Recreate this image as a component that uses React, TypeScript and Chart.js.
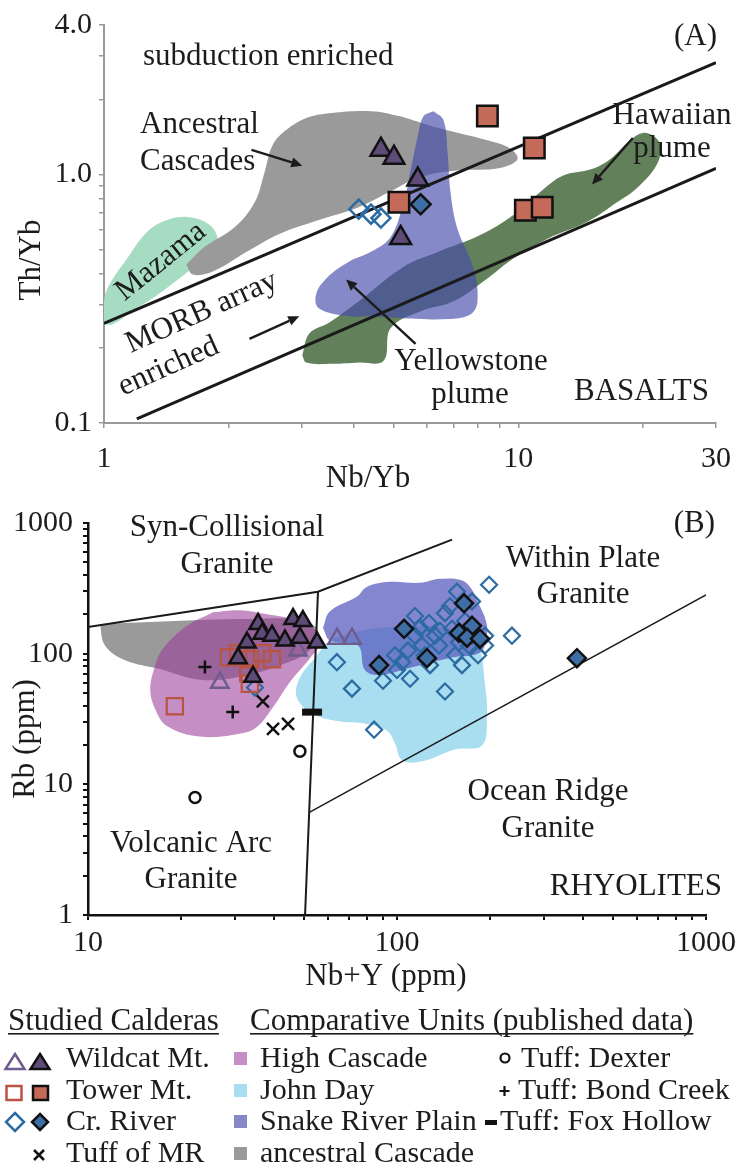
import React, { useEffect, useRef } from 'react';
import { Chart, registerables } from 'chart.js';

Chart.register(...registerables);

const SERIF = '"Liberation Serif", "Times New Roman", Times, serif';
const INK = '#1c1c1c';

type XY = [number, number];

// ---------- Panel A: Th/Yb vs Nb/Yb (basalts) ----------
const basaltXTicks = [1, 2, 3, 4, 5, 6, 7, 8, 9, 10, 20, 30];
const basaltXLabels = [1, 10, 30];
const basaltYTicks = [0.1, 0.2, 0.3, 0.4, 0.5, 0.6, 0.7, 0.8, 0.9, 1, 2, 3, 4];
const basaltYLabels = [0.1, 1, 4];

const wildcatBasalt: XY[] = [[4.66, 1.26], [5.01, 1.17], [5.72, 0.955], [5.2, 0.556]];
const towerBasalt: XY[] = [[8.42, 1.72], [10.93, 1.28], [5.15, 0.773], [10.4, 0.719], [11.42, 0.739]];
const crRiverBasaltOpen: XY[] = [[4.12, 0.726], [4.41, 0.693], [4.66, 0.668]];
const crRiverBasaltFilled: XY[] = [[5.81, 0.759]];

const morbUpper: XY[] = [[1, 0.252], [30, 2.82]];
const morbLower: XY[] = [[1.2, 0.104], [30, 1.06]];

const mazamaField: XY[] = [[1.0, 0.25], [1.0, 0.31], [1.03, 0.36], [1.136, 0.458], [1.27, 0.587], [1.42, 0.656], [1.61, 0.674], [1.8, 0.626], [1.88, 0.551], [1.83, 0.489], [1.67, 0.434], [1.52, 0.382], [1.31, 0.318], [1.17, 0.282], [1.05, 0.25]];
const ancestralFieldA: XY[] = [[1.58, 0.434], [1.64, 0.396], [1.83, 0.407], [2.21, 0.489], [2.65, 0.577], [3.3, 0.656], [4.12, 0.739], [4.87, 0.848], [5.75, 0.973], [7.17, 1.04], [8.95, 1.06], [9.95, 1.15], [9.57, 1.27], [8.47, 1.37], [7.17, 1.47], [6.08, 1.58], [5.15, 1.72], [4.41, 1.8], [3.55, 1.77], [3.08, 1.69], [2.75, 1.51], [2.55, 1.31], [2.44, 1.02], [2.31, 0.773], [2.07, 0.615], [1.75, 0.512]];
const yellowstoneField: XY[] = [[6.25, 1.8], [6.6, 1.656], [6.75, 1.223], [6.86, 0.848], [7.13, 0.604], [7.8, 0.418], [7.97, 0.309], [7.67, 0.274], [6.75, 0.262], [5.29, 0.264], [4.41, 0.269], [3.9, 0.269], [3.3, 0.29], [3.25, 0.33], [3.44, 0.382], [3.9, 0.446], [4.41, 0.489], [4.92, 0.561], [5.29, 0.773], [5.5, 1.047], [5.72, 1.43], [5.91, 1.72]];
const hawaiianField: XY[] = [[3.01, 0.187], [3.13, 0.229], [3.49, 0.253], [4.12, 0.309], [5.29, 0.426], [6.42, 0.489], [8.11, 0.572], [9.73, 0.687], [11.48, 0.871], [12.83, 0.991], [14.9, 1.047], [16.6, 1.148], [18.9, 1.404], [20.4, 1.47], [21.9, 1.341], [21.7, 1.116], [19.4, 0.887], [17.3, 0.773], [14.65, 0.644], [11.74, 0.551], [9.73, 0.459], [8.42, 0.382], [6.98, 0.309], [5.81, 0.282], [4.92, 0.241], [4.73, 0.178], [4.12, 0.175], [3.55, 0.173], [3.08, 0.175]];

const ancestralArrow = { from: [2.27, 1.258] as XY, to: [3.01, 1.086] as XY };
const hawaiianArrow = { from: [18.9, 1.404] as XY, to: [15.06, 0.912] as XY };
const morbArrow = { from: [2.244, 0.218] as XY, to: [2.96, 0.269] as XY };
const yellowstoneArrow = { from: [5.65, 0.208] as XY, to: [3.84, 0.378] as XY };

// ---------- Panel B: Rb vs Nb+Y (rhyolites) ----------
const rhyoXTicks = [10, 20, 30, 40, 50, 60, 70, 80, 90, 100, 200, 300, 400, 500, 600, 700, 800, 900, 1000];
const rhyoXLabels = [10, 100, 1000];
const rhyoYTicks = [1, 2, 3, 4, 5, 6, 7, 8, 9, 10, 20, 30, 40, 50, 60, 70, 80, 90, 100, 200, 300, 400, 500, 600, 700, 800, 900, 1000];
const rhyoYLabels = [1, 10, 100, 1000];

const wildcatFilled: XY[] = [[30.6, 92.3], [32.7, 121.6], [34.2, 66.5], [35.5, 168.9], [36.6, 142.1], [39.4, 137.3], [43.4, 125.9], [46.1, 184], [49.6, 177.8], [48.5, 132.6], [55.1, 121.6]];
const wildcatOpen: XY[] = [[26.7, 59.9], [47.8, 105.9], [64.0, 130.3], [71.5, 130.3]];
const towerOpen: XY[] = [[19.1, 39.6], [28.6, 93.9], [30.6, 100.6], [33.4, 90.7], [36.6, 100.6], [39.4, 90.7], [33.0, 71.2], [33.4, 58.9]];
const crRiverOpen: XY[] = [[34.7, 55.0], [63.9, 86.1], [71.5, 54.0], [84.3, 26.2], [90.1, 62.0], [100, 75.0], [110.2, 64.2], [103.8, 86.1], [114.3, 193.9], [114.3, 137.3], [120.5, 115.5], [123.2, 97.2], [126.9, 171.8], [132.8, 137.3], [136.8, 115.5], [143.0, 204.2], [143.0, 51.3], [150.7, 154.9], [154.1, 97.2], [156.3, 298.5], [158.7, 121.6], [171.0, 115.5], [174.9, 251.2], [174.9, 137.3], [192.7, 137.3], [192.7, 115.5], [198.6, 336.9], [235.5, 137.3], [108.5, 105.9], [127.9, 81.7], [137.7, 149.6], [166.0, 177.8], [148.4, 230.5], [182.9, 97.2], [98.5, 97.2], [118.7, 157.6], [162.3, 81.7]];
const crRiverFilled: XY[] = [[105.4, 154.9], [87.5, 81.7], [125.0, 92.3], [164.8, 242.7], [158.7, 144.5], [174.9, 163.2], [168.5, 132.6], [185.6, 130.3], [382.3, 92.3]];
const tuffMR: XY[] = [[36.8, 43.2], [39.7, 26.6], [44.4, 29.0]];
const tuffDexter: XY[] = [[22.2, 7.94], [48.5, 17.9]];
const tuffBondCreek: XY[] = [[23.9, 79.0], [29.4, 35.7]];
const tuffFoxHollow: XY[] = [[53.1, 35.7]];

const synColBoundary: XY[] = [[10, 160], [55.5, 298], [150.7, 746]];
const vagWpgBoundary: XY[] = [[55.5, 298], [50.4, 1]];
const orgBoundary: XY[] = [[52.2, 6.13], [1000, 282]];

const ancestralFieldB: XY[] = [[10.93, 168.9], [15.87, 174.8], [23.04, 180.9], [33.4, 184], [48.5, 180.9], [55.5, 149.6], [52.2, 105.9], [41.8, 81.7], [31.0, 66.5], [23.0, 63.1], [17.1, 76.3], [13.18, 89.1], [11.35, 115.5]];
const highCascadeField: XY[] = [[25.4, 207.7], [31.0, 215], [37.9, 200.7], [46.0, 184], [53.4, 157.6], [56.4, 121.6], [52.3, 92.3], [45.1, 61.0], [39.7, 38.9], [35.2, 27.5], [31.0, 24.4], [23.0, 23.2], [18.0, 28.0], [16.5, 37.6], [15.9, 53.1], [16.5, 81.7], [17.5, 109.6], [20.9, 163.2]];
const johnDayField: XY[] = [[55.1, 97.2], [60.7, 125.9], [70.4, 142.1], [88.1, 157.6], [118.7, 163.2], [159.9, 149.6], [182.9, 115.5], [192.7, 57.9], [195.5, 32.7], [188.4, 19.8], [154.1, 18.5], [120.5, 15.0], [103.8, 15.3], [98.5, 20.5], [92.8, 25.7], [80.0, 29.0], [64.0, 30.5], [53.5, 34.5], [47.4, 46.2], [48.5, 65.3]];
const snakeRiverField: XY[] = [[57.6, 157.6], [60.7, 211.3], [74.2, 273.8], [80.0, 325.4], [94.9, 354.8], [118.7, 348.7], [137.7, 373.6], [159.9, 367.3], [172.2, 325.4], [184.1, 238.5], [194.1, 177.8], [195.5, 137.3], [185.6, 102.3], [151.7, 93.9], [112.7, 79.0], [88.1, 68.8], [78.7, 75.0], [74.8, 115.5], [60.7, 125.9]];

// Legend text
const calderaNames = ['Wildcat Mt.', 'Tower Mt.', 'Cr. River', 'Tuff of MR'];
const unitNames = ['High Cascade', 'John Day', 'Snake River Plain', 'ancestral Cascade'];
const tuffNames = ['Tuff: Dexter', 'Tuff: Bond Creek', 'Tuff: Fox Hollow'];

// Colours
const WILD_FILL = '#5e4b78';
const WILD_LINE = '#6f5c8f';
const TOWER_FILL = '#c46a58';
const TOWER_LINE = '#b95440';
const CR_FILL = '#3d6fa6';
const CR_LINE = '#2c6aa2';
const MAZAMA = '#a6dcc2';
const GRAY_FIELD = '#9b9a9a';
const HAWAII = '#62805a';
const YELLOWSTONE = 'rgba(70,76,172,0.66)';
const HIGH_CASCADE = 'rgba(153,58,154,0.57)';
const JOHN_DAY = '#a9def0';
const SNAKE = 'rgba(84,87,189,0.72)';
const HIGH_CASCADE_KEY = '#c58fc6';
const SNAKE_KEY = '#8688c8';

const pts = (a: XY[]) => a.map(([x, y]) => ({ x, y }));
const ring = (a: XY[]) => pts([...a, a[0]]);

type Txt = { t: string; x: number; y: number; align?: CanvasTextAlign; rot?: number; size?: number };

const panelAText: Txt[] = [
  { t: '(A)', x: 717, y: 45, align: 'right' },
  { t: 'subduction enriched', x: 143, y: 65, align: 'left' },
  { t: 'Ancestral', x: 140, y: 133, align: 'left' },
  { t: 'Cascades', x: 140, y: 170, align: 'left' },
  { t: 'Hawaiian', x: 672, y: 124 },
  { t: 'plume', x: 672, y: 157 },
  { t: 'Mazama', x: 166, y: 268, rot: -39 },
  { t: 'MORB array', x: 205, y: 320, rot: -24 },
  { t: 'enriched', x: 172, y: 374, rot: -24 },
  { t: 'Yellowstone', x: 471, y: 370 },
  { t: 'plume', x: 470, y: 403 },
  { t: 'BASALTS', x: 709, y: 400, align: 'right' },
  { t: 'Nb/Yb', x: 368, y: 487 },
  { t: 'Th/Yb', x: 40, y: 260, rot: -90 },
];

const panelBText: Txt[] = [
  { t: '(B)', x: 715, y: 532, align: 'right' },
  { t: 'Syn-Collisional', x: 227, y: 536 },
  { t: 'Granite', x: 227, y: 573 },
  { t: 'Within Plate', x: 583, y: 567 },
  { t: 'Granite', x: 583, y: 603 },
  { t: 'Ocean Ridge', x: 548, y: 800 },
  { t: 'Granite', x: 548, y: 837 },
  { t: 'Volcanic Arc', x: 191, y: 852 },
  { t: 'Granite', x: 191, y: 888 },
  { t: 'RHYOLITES', x: 722, y: 895, align: 'right' },
  { t: 'Nb+Y (ppm)', x: 386, y: 985 },
  { t: 'Rb (ppm)', x: 34, y: 739, rot: -90 },
];

const A_TOP = 0;
const A_H = 500;
const B_TOP = 495;
const B_H = 674;

function drawArrow(ctx: CanvasRenderingContext2D, x1: number, y1: number, x2: number, y2: number) {
  const ang = Math.atan2(y2 - y1, x2 - x1);
  const head = 11;
  const half = 5;
  const bx = x2 - Math.cos(ang) * head;
  const by = y2 - Math.sin(ang) * head;
  ctx.beginPath();
  ctx.moveTo(x1, y1);
  ctx.lineTo(bx, by);
  ctx.stroke();
  ctx.beginPath();
  ctx.moveTo(x2, y2);
  ctx.lineTo(bx + Math.sin(ang) * half, by - Math.cos(ang) * half);
  ctx.lineTo(bx - Math.sin(ang) * half, by + Math.cos(ang) * half);
  ctx.closePath();
  ctx.fill();
}

function shape(ctx: CanvasRenderingContext2D, path: () => void, fill: string | null, stroke: string | null, lw: number) {
  ctx.beginPath();
  path();
  ctx.closePath();
  if (fill) {
    ctx.fillStyle = fill;
    ctx.fill();
  }
  if (stroke) {
    ctx.strokeStyle = stroke;
    ctx.lineWidth = lw;
    ctx.stroke();
  }
}

function drawLegend(ctx: CanvasRenderingContext2D, off: number) {
  const rows = [1067, 1099, 1130, 1162].map((v) => v - off);
  ctx.fillStyle = INK;
  ctx.textAlign = 'left';
  ctx.textBaseline = 'alphabetic';
  ctx.font = `31px ${SERIF}`;
  const header = (t: string, x: number, y: number) => {
    ctx.fillText(t, x, y);
    ctx.fillRect(x, y + 3, ctx.measureText(t).width, 1.6);
  };
  header('Studied Calderas', 8, 1030 - off);
  header('Comparative Units (published data)', 250, 1030 - off);

  ctx.font = `30px ${SERIF}`;
  calderaNames.forEach((n, i) => ctx.fillText(n, 66, rows[i]));
  unitNames.forEach((n, i) => ctx.fillText(n, 260, rows[i]));
  const tuffX = [521, 518, 500];
  tuffNames.forEach((n, i) => ctx.fillText(n, tuffX[i], rows[i]));

  // studied caldera symbols
  const tri = (cx: number, cy: number) => () => {
    ctx.moveTo(cx, cy - 8);
    ctx.lineTo(cx + 9.5, cy + 7);
    ctx.lineTo(cx - 9.5, cy + 7);
  };
  let cy = rows[0] - 5;
  shape(ctx, tri(15, cy), null, WILD_LINE, 2.5);
  shape(ctx, tri(40, cy), WILD_FILL, '#111', 2.5);
  cy = rows[1] - 6;
  shape(ctx, () => ctx.rect(6.5, cy - 7, 15, 14), null, TOWER_LINE, 2.5);
  shape(ctx, () => ctx.rect(33, cy - 7, 15, 14), TOWER_FILL, '#111', 2.5);
  cy = rows[2] - 8;
  const dia = (cx: number, r: number) => () => {
    ctx.moveTo(cx, cy - r);
    ctx.lineTo(cx + r, cy);
    ctx.lineTo(cx, cy + r);
    ctx.lineTo(cx - r, cy);
  };
  shape(ctx, dia(15, 9), null, CR_LINE, 2.5);
  shape(ctx, dia(40, 8), CR_FILL, '#111', 2.5);
  cy = rows[3] - 7;
  ctx.strokeStyle = '#111';
  ctx.lineWidth = 2.5;
  ctx.beginPath();
  ctx.moveTo(34, cy - 5);
  ctx.lineTo(44, cy + 5);
  ctx.moveTo(44, cy - 5);
  ctx.lineTo(34, cy + 5);
  ctx.stroke();

  // comparative unit swatches
  [HIGH_CASCADE_KEY, JOHN_DAY, SNAKE_KEY, GRAY_FIELD].forEach((c, i) => {
    ctx.fillStyle = c;
    ctx.fillRect(234, rows[i] - 15, 13, 13);
  });

  // tuff symbols
  ctx.strokeStyle = '#111';
  ctx.fillStyle = '#111';
  ctx.lineWidth = 2.2;
  ctx.beginPath();
  ctx.arc(505, rows[0] - 9, 4.5, 0, Math.PI * 2);
  ctx.stroke();
  ctx.beginPath();
  ctx.moveTo(499.5, rows[1] - 8);
  ctx.lineTo(509.5, rows[1] - 8);
  ctx.moveTo(504.5, rows[1] - 13);
  ctx.lineTo(504.5, rows[1] - 3);
  ctx.stroke();
  ctx.fillRect(485, rows[2] - 10, 12, 5);
}

function annotate(id: string, texts: Txt[], off: number, arrows: { from: XY; to: XY }[], extra?: (ctx: CanvasRenderingContext2D, off: number) => void) {
  return {
    id,
    afterDraw(chart: any) {
      const ctx: CanvasRenderingContext2D = chart.ctx;
      const xs = chart.scales.x;
      const ys = chart.scales.y;
      ctx.save();
      ctx.fillStyle = INK;
      ctx.strokeStyle = INK;
      ctx.textBaseline = 'alphabetic';
      for (const d of texts) {
        ctx.font = `${d.size ?? 31}px ${SERIF}`;
        ctx.textAlign = d.align ?? 'center';
        ctx.save();
        ctx.translate(d.x, d.y - off);
        if (d.rot) ctx.rotate((d.rot * Math.PI) / 180);
        ctx.fillText(d.t, 0, 0);
        ctx.restore();
      }
      ctx.lineWidth = 2.4;
      for (const a of arrows) {
        drawArrow(
          ctx,
          xs.getPixelForValue(a.from[0]),
          ys.getPixelForValue(a.from[1]),
          xs.getPixelForValue(a.to[0]),
          ys.getPixelForValue(a.to[1])
        );
      }
      if (extra) extra(ctx, off);
      ctx.restore();
    },
  };
}

function logAxis(opts: {
  min: number;
  max: number;
  ticks: number[];
  labels: number[];
  fmt: (v: number) => string;
  color: string;
  borderWidth: number;
  tickWidth: number;
  padding: number;
  size: number;
  fit: (s: any) => void;
}) {
  return {
    type: 'logarithmic' as const,
    min: opts.min,
    max: opts.max,
    afterBuildTicks: (s: any) => {
      s.ticks = opts.ticks.map((v) => ({ value: v }));
    },
    afterFit: opts.fit,
    ticks: {
      autoSkip: false,
      maxRotation: 0,
      minRotation: 0,
      padding: opts.padding,
      color: INK,
      font: { family: SERIF, size: opts.size },
      callback: (v: any) => (opts.labels.includes(Number(v)) ? opts.fmt(Number(v)) : ''),
    },
    grid: {
      display: true,
      drawOnChartArea: false,
      drawTicks: true,
      tickLength: 5,
      color: opts.color,
      lineWidth: opts.tickWidth,
    },
    border: { display: true, color: opts.color, width: opts.borderWidth },
  };
}

const field = (data: XY[], color: string, order: number, tension = 0.38) => ({
  data: ring(data),
  showLine: true,
  fill: 'shape',
  backgroundColor: color,
  borderColor: 'rgba(0,0,0,0)',
  borderWidth: 0,
  pointRadius: 0,
  tension,
  order,
});

const boundary = (data: XY[], width: number, color: string) => ({
  data: pts(data),
  showLine: true,
  fill: false,
  borderColor: color,
  borderWidth: width,
  pointRadius: 0,
  tension: 0,
  order: 5,
});

const marks = (data: XY[], style: string, r: number, fill: string, line: string, lw: number, order: number) => ({
  data: pts(data),
  pointStyle: style,
  pointRadius: r,
  backgroundColor: fill,
  borderColor: line,
  borderWidth: lw,
  showLine: false,
  order,
});

function basaltConfig(): any {
  return {
    type: 'scatter',
    data: {
      datasets: [
        marks(towerBasalt, 'rect', 14.5, TOWER_FILL, '#111', 2.5, 0),
        marks(wildcatBasalt, 'triangle', 12, WILD_FILL, '#111', 2.5, 1),
        marks(crRiverBasaltFilled, 'rectRot', 10, CR_FILL, '#111', 2.5, 2),
        marks(crRiverBasaltOpen, 'rectRot', 9.5, 'rgba(0,0,0,0)', CR_LINE, 2.5, 3),
        boundary(morbUpper, 3, '#1a1a1a'),
        boundary(morbLower, 3, '#1a1a1a'),
        field(yellowstoneField, YELLOWSTONE, 10),
        field(hawaiianField, HAWAII, 11),
        field(ancestralFieldA, GRAY_FIELD, 12),
        field(mazamaField, MAZAMA, 13),
      ],
    },
    options: {
      animation: false,
      responsive: false,
      events: [],
      layout: { padding: { top: 20, right: 26, left: 0, bottom: 0 } },
      plugins: { legend: { display: false }, tooltip: { enabled: false }, title: { display: false } },
      scales: {
        x: logAxis({
          min: 1, max: 30, ticks: basaltXTicks, labels: basaltXLabels, fmt: (v) => String(v),
          color: '#9a9a9a', borderWidth: 2, tickWidth: 1.5, padding: 13, size: 30,
          fit: (s) => { s.height = A_H - 423; },
        }),
        y: logAxis({
          min: 0.1, max: 4, ticks: basaltYTicks, labels: basaltYLabels, fmt: (v) => (v < 1 ? String(v) : v.toFixed(1)),
          color: '#9a9a9a', borderWidth: 2, tickWidth: 1.5, padding: 7, size: 30,
          fit: (s) => { s.width = 104; },
        }),
      },
    },
    plugins: [annotate('panelA', panelAText, A_TOP, [ancestralArrow, hawaiianArrow, morbArrow, yellowstoneArrow])],
  };
}

function rhyoliteConfig(): any {
  return {
    type: 'scatter',
    data: {
      datasets: [
        marks(tuffFoxHollow, 'line', 10, '#111', '#111', 7, 0),
        marks(tuffBondCreek, 'cross', 6.5, '#111', '#111', 2.5, 0),
        marks(tuffDexter, 'circle', 5.5, 'rgba(0,0,0,0)', '#111', 2.5, 0),
        marks(tuffMR, 'crossRot', 8.5, '#111', '#111', 2.5, 0),
        marks(wildcatFilled, 'triangle', 10, WILD_FILL, '#111', 2.5, 1),
        marks(crRiverFilled, 'rectRot', 9, CR_FILL, '#111', 2.5, 2),
        marks(wildcatOpen, 'triangle', 10, 'rgba(0,0,0,0)', WILD_LINE, 2.5, 3),
        marks(towerOpen, 'rect', 11.5, 'rgba(0,0,0,0)', TOWER_LINE, 2.2, 4),
        marks(crRiverOpen, 'rectRot', 8, 'rgba(0,0,0,0)', CR_LINE, 2.2, 4),
        boundary(synColBoundary, 2, '#1a1a1a'),
        boundary(vagWpgBoundary, 2, '#1a1a1a'),
        boundary(orgBoundary, 1.5, '#1a1a1a'),
        field(snakeRiverField, SNAKE, 10),
        field(johnDayField, JOHN_DAY, 11),
        field(highCascadeField, HIGH_CASCADE, 12),
        field(ancestralFieldB, GRAY_FIELD, 13),
      ],
    },
    options: {
      animation: false,
      responsive: false,
      events: [],
      layout: { padding: { top: 20, right: 38, left: 0, bottom: 0 } },
      plugins: { legend: { display: false }, tooltip: { enabled: false }, title: { display: false } },
      scales: {
        x: logAxis({
          min: 10, max: 1000, ticks: rhyoXTicks, labels: rhyoXLabels, fmt: (v) => String(v),
          color: '#111', borderWidth: 2.5, tickWidth: 2, padding: 5, size: 30,
          fit: (s) => { s.height = B_H - 420; },
        }),
        y: logAxis({
          min: 1, max: 1000, ticks: rhyoYTicks, labels: rhyoYLabels, fmt: (v) => String(v),
          color: '#111', borderWidth: 2.5, tickWidth: 2, padding: 10, size: 30,
          fit: (s) => { s.width = 88; },
        }),
      },
    },
    plugins: [annotate('panelB', panelBText, B_TOP, [], drawLegend)],
  };
}

export default function App() {
  const refA = useRef<HTMLCanvasElement>(null);
  const refB = useRef<HTMLCanvasElement>(null);

  useEffect(() => {
    const a = new Chart(refA.current as HTMLCanvasElement, basaltConfig());
    const b = new Chart(refB.current as HTMLCanvasElement, rhyoliteConfig());
    return () => {
      a.destroy();
      b.destroy();
    };
  }, []);

  return (
    <div style={{ position: 'absolute', left: 0, top: 0, width: 744, height: 1169, background: '#fff', overflow: 'hidden' }}>
      <canvas
        ref={refA}
        width={744}
        height={A_H}
        style={{ position: 'absolute', left: 0, top: A_TOP, width: 744, height: A_H }}
      />
      <canvas
        ref={refB}
        width={744}
        height={B_H}
        style={{ position: 'absolute', left: 0, top: B_TOP, width: 744, height: B_H }}
      />
    </div>
  );
}
